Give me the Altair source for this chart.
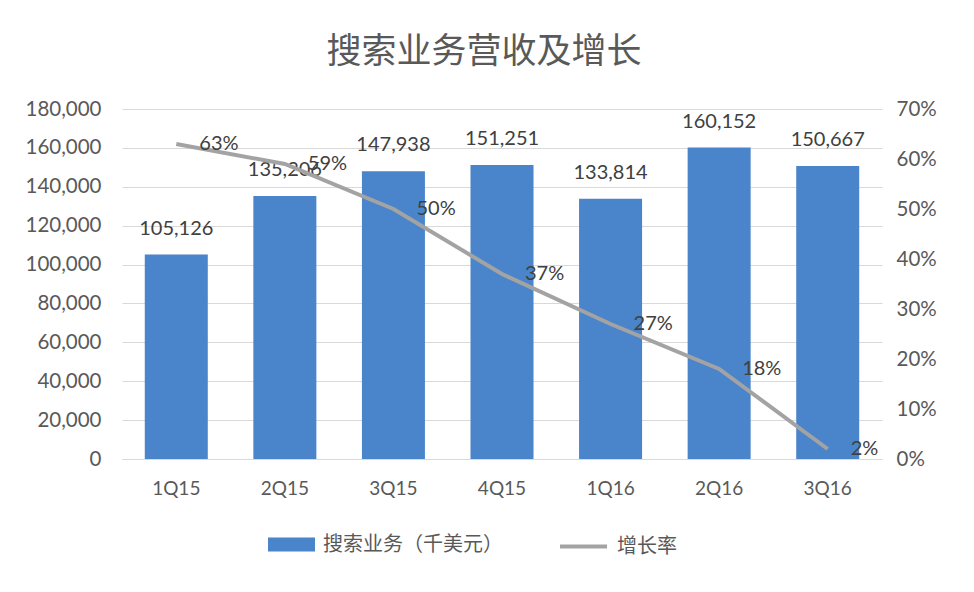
import altair as alt
import pandas as pd

quarters = ["1Q15", "2Q15", "3Q15", "4Q15", "1Q16", "2Q16", "3Q16"]
revenue = [105126, 135206, 147938, 151251, 133814, 160152, 150667]
growth = [0.63, 0.59, 0.50, 0.37, 0.27, 0.18, 0.02]
growth_labels = ["63%", "59%", "50%", "37%", "27%", "18%", "2%"]
bar_series = "搜索业务（千美元）"
line_series = "增长率"

df = pd.DataFrame({
    "q": quarters,
    "rev": revenue,
    "g": growth,
    "gl": growth_labels,
    "s1": [bar_series] * len(quarters),
    "s2": [line_series] * len(quarters),
})

BLUE = "#4a84ca"
GRAY = "#a3a3a3"
NUM_FONT = "Lato"
CJK = "Noto Sans CJK SC"

x_axis = alt.Axis(labelAngle=0, labelFont=NUM_FONT, labelFontSize=19,
                  labelColor="#595959", labelPadding=20, ticks=False,
                  domain=True, domainColor="#d9d9d9", grid=False)
x = alt.X("q:N", sort=quarters, title=None,
          scale=alt.Scale(paddingInner=0.42, paddingOuter=0.21),
          axis=x_axis)

base = alt.Chart(df)

left_axis = alt.Axis(orient="left", values=list(range(0, 180001, 20000)),
                     format=",.0f", labelFont=NUM_FONT, labelFontSize=20.5,
                     labelColor="#595959", labelPadding=21, ticks=False,
                     domain=False, grid=True, gridColor="#d9d9d9")
y_left = alt.Y("rev:Q", title=None,
               scale=alt.Scale(domain=[0, 180000], nice=False),
               axis=left_axis)

bars = base.mark_bar(size=63).encode(
    x=x,
    y=y_left,
    color=alt.Color("s1:N", scale=alt.Scale(domain=[bar_series], range=[BLUE]),
                    legend=alt.Legend(orient="none", legendX=146, legendY=412,
                                      title=None, symbolType="M-1,-0.3H1V0.3H-1Z",
                                      symbolSize=2209, symbolStrokeWidth=0,
                                      labelFont=CJK, labelFontSize=20,
                                      labelLimit=400,
                                      labelColor="#595959", labelOffset=8)),
)

bar_text = base.mark_text(baseline="middle", dy=-26, font=NUM_FONT,
                          fontSize=20, color="#404040").encode(
    x=x,
    y=y_left,
    text=alt.Text("rev:Q", format=",.0f"),
)

right_axis = alt.Axis(orient="right", values=[i / 10 for i in range(8)],
                      format=".0%", labelFont=NUM_FONT, labelFontSize=20.5,
                      labelColor="#595959", labelPadding=14, ticks=False,
                      domain=False, grid=False)
y_right = alt.Y("g:Q", title=None,
                scale=alt.Scale(domain=[0, 0.7], nice=False),
                axis=right_axis)

line = base.mark_line(strokeWidth=4).encode(
    x=x,
    y=y_right,
    stroke=alt.Stroke("s2:N", scale=alt.Scale(domain=[line_series], range=[GRAY]),
                      legend=alt.Legend(orient="none", legendX=436, legendY=412,
                                        title=None, symbolType="stroke",
                                        symbolSize=2209, symbolStrokeWidth=4,
                                        labelFont=CJK, labelFontSize=20,
                                        labelLimit=400,
                                        labelColor="#595959", labelOffset=8)),
)

line_text = base.mark_text(align="left", baseline="middle", dx=23, font=NUM_FONT,
                           fontSize=20, color="#404040").encode(
    x=x,
    y=y_right,
    text="gl:N",
)

left = alt.layer(bars, bar_text)
right = alt.layer(line, line_text)

chart = alt.layer(left, right).resolve_scale(
    y="independent", color="independent", stroke="independent"
).properties(
    width=760,
    height=350,
    padding={"left": 114, "top": 101, "right": 84, "bottom": 125},
    autosize=alt.AutoSizeParams(type="none"),
    title=alt.TitleParams("搜索业务营收及增长", font=CJK, fontSize=35,
                          fontWeight="normal", color="#595959",
                          anchor="middle", dx=-18, offset=29),
).configure_view(stroke=None)

chart.save("out.html", embed_options={"renderer": "svg", "actions": False})
